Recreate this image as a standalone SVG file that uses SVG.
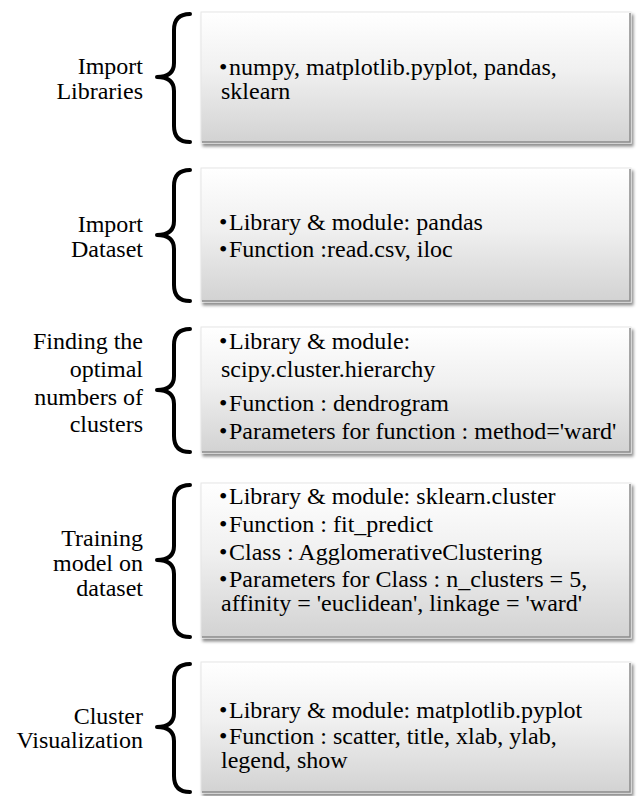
<svg xmlns="http://www.w3.org/2000/svg" width="637" height="796" viewBox="0 0 637 796">
  <defs>
    <linearGradient id="boxFill" x1="0" y1="0" x2="0" y2="1">
      <stop offset="0" stop-color="#ffffff"/>
      <stop offset="0.45" stop-color="#f0f0f0"/>
      <stop offset="1" stop-color="#d2d2d2"/>
    </linearGradient>
    <filter id="shadow" x="-5%" y="-5%" width="112%" height="115%">
      <feDropShadow dx="2" dy="3" stdDeviation="1.6" flood-color="#000000" flood-opacity="0.45"/>
    </filter>
  </defs>
  <style>
    .box { fill: url(#boxFill); stroke: #e6e6e6; stroke-width: 1; filter: url(#shadow); }
    .edge { fill: none; stroke: #8c8c8c; stroke-width: 1.5; }
    .brace { fill: none; stroke: #000000; stroke-width: 4; stroke-linecap: round; stroke-linejoin: round; }
    .label { font-size: 24px; fill: #000000; text-anchor: end; }
    .item { font-size: 24px; fill: #000000; }
  </style>
  <rect width="637" height="796" fill="#ffffff"/>

  <!-- curly braces joining each step name to its details -->
  <g id="connectors">
    <path class="brace" d="M190,14 Q174,14 174,30 L174,63 Q174,77 157,77 Q174,77 174,91 L174,126 Q174,142 190,142"/>
    <path class="brace" d="M190,170 Q174,170 174,186 L174,221 Q174,235 157,235 Q174,235 174,249 L174,285 Q174,301 190,301"/>
    <path class="brace" d="M190,329 Q174,329 174,345 L174,376 Q174,390 157,390 Q174,390 174,404 L174,436 Q174,452 190,452"/>
    <path class="brace" d="M190,485 Q174,485 174,501 L174,546 Q174,560 157,560 Q174,560 174,574 L174,621 Q174,637 190,637"/>
    <path class="brace" d="M190,664 Q174,664 174,680 L174,713 Q174,727 157,727 Q174,727 174,741 L174,776 Q174,792 190,792"/>
  </g>

  <g id="step-import-libraries" font-family="'Liberation Serif', 'Times New Roman', serif">
    <text class="label"><tspan x="143" y="74">Import</tspan><tspan x="143" y="99">Libraries</tspan></text>
    <rect class="box" x="201" y="12" width="430" height="131"/>
    <path class="edge" d="M630,13 L630,142 L202,142"/>
    <text class="item" x="219" y="75">•</text>
    <text class="item"><tspan x="229" y="75">numpy, matplotlib.pyplot, pandas,</tspan><tspan x="221" y="99">sklearn</tspan></text>
  </g>

  <g id="step-import-dataset" font-family="'Liberation Serif', 'Times New Roman', serif">
    <text class="label"><tspan x="143" y="232">Import</tspan><tspan x="143" y="257">Dataset</tspan></text>
    <rect class="box" x="201" y="168" width="430" height="134"/>
    <path class="edge" d="M630,169 L630,301 L202,301"/>
    <text class="item" x="219" y="230">•</text>
    <text class="item" x="219" y="257">•</text>
    <text class="item"><tspan x="229" y="230">Library &amp; module: pandas</tspan><tspan x="229" y="257">Function :read.csv, iloc</tspan></text>
  </g>

  <g id="step-optimal-clusters" font-family="'Liberation Serif', 'Times New Roman', serif">
    <text class="label"><tspan x="143" y="349">Finding the</tspan><tspan x="143" y="377">optimal</tspan><tspan x="143" y="405">numbers of</tspan><tspan x="143" y="432">clusters</tspan></text>
    <rect class="box" x="201" y="327" width="430" height="126"/>
    <path class="edge" d="M630,328 L630,452 L202,452"/>
    <text class="item" x="219" y="349">•</text>
    <text class="item" x="219" y="411">•</text>
    <text class="item" x="219" y="439">•</text>
    <text class="item"><tspan x="229" y="349">Library &amp; module:</tspan><tspan x="221" y="377">scipy.cluster.hierarchy</tspan><tspan x="229" y="411">Function : dendrogram</tspan><tspan x="229" y="439">Parameters for function : method='ward'</tspan></text>
  </g>

  <g id="step-training-model" font-family="'Liberation Serif', 'Times New Roman', serif">
    <text class="label"><tspan x="143" y="546">Training</tspan><tspan x="143" y="571">model on</tspan><tspan x="143" y="596">dataset</tspan></text>
    <rect class="box" x="201" y="483" width="430" height="155"/>
    <path class="edge" d="M630,484 L630,637 L202,637"/>
    <text class="item" x="219" y="504">•</text>
    <text class="item" x="219" y="532">•</text>
    <text class="item" x="219" y="560">•</text>
    <text class="item" x="219" y="587">•</text>
    <text class="item"><tspan x="229" y="504">Library &amp; module: sklearn.cluster</tspan><tspan x="229" y="532">Function : fit_predict</tspan><tspan x="229" y="560">Class : AgglomerativeClustering</tspan><tspan x="229" y="587">Parameters for Class : n_clusters = 5,</tspan><tspan x="221" y="611">affinity = 'euclidean', linkage = 'ward'</tspan></text>
  </g>

  <g id="step-cluster-visualization" font-family="'Liberation Serif', 'Times New Roman', serif">
    <text class="label"><tspan x="143" y="724">Cluster</tspan><tspan x="143" y="748">Visualization</tspan></text>
    <rect class="box" x="201" y="662" width="430" height="131"/>
    <path class="edge" d="M630,663 L630,792 L202,792"/>
    <text class="item" x="219" y="718">•</text>
    <text class="item" x="219" y="744">•</text>
    <text class="item"><tspan x="229" y="718">Library &amp; module: matplotlib.pyplot</tspan><tspan x="229" y="744">Function : scatter, title, xlab, ylab,</tspan><tspan x="221" y="768">legend, show</tspan></text>
  </g>
</svg>
